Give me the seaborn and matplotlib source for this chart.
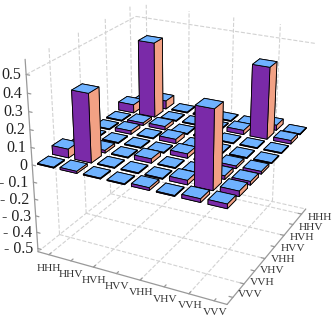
import numpy as np
import matplotlib
matplotlib.use("Agg")
import matplotlib.pyplot as plt
from mpl_toolkits.mplot3d import proj3d
import seaborn as sns

labels = ["HHH", "HHV", "HVH", "HVV", "VHH", "VHV", "VVH", "VVV"]
z_ticks = [0.5, 0.4, 0.3, 0.2, 0.1, 0, -0.1, -0.2, -0.3, -0.4, -0.5]
z_labels = ["0.5", "0.4", "0.3", "0.2", "0.1", "0", "- 0.1", "- 0.2", "- 0.3", "- 0.4", "- 0.5"]

# one list per x label, values along the y labels HHH..VVV
row_hhh = [0.005, 0.05, 0.005, 0.005, 0.005, 0.005, 0.05, 0.005]
row_hhv = [0.05, 0.45, 0.015, 0.02, 0.005, 0.015, 0.39, 0.012]
row_hvh = [0.005, 0.005, 0.02, 0.005, 0.005, 0.005, 0.005, 0.005]
row_hvv = [0.005, 0.005, 0.005, 0.025, 0.005, 0.025, 0.005, 0.005]
row_vhh = [0.005, 0.005, 0.005, 0.005, 0.025, 0.005, 0.005, 0.015]
row_vhv = [0.005, 0.025, 0.005, 0.005, 0.005, 0.005, 0.025, 0.005]
row_vvh = [0.03, 0.42, 0.005, 0.005, 0.015, 0.02, 0.435, 0.02]
row_vvv = [0.005, 0.02, 0.005, 0.005, 0.015, 0.02, 0.03, 0.025]
rows = [row_hhh, row_hhv, row_hvh, row_hvv, row_vhh, row_vhv, row_vvh, row_vvv]

sns.set_theme(style="white")
plt.rcParams['font.family'] = ['Liberation Serif', 'DejaVu Serif']

fig = plt.figure(figsize=(3.32, 3.2), dpi=100)
ax = fig.add_axes([0.011, 0.037, 1.02, 1.02], projection='3d')
azim = -63
ax.set_proj_type('persp', focal_length=0.55)
ax.view_init(elev=24, azim=azim)
ax.set_box_aspect((1, 1, 0.98), zoom=1.06)
ax.set_xlim(0, 8)
ax.set_ylim(0, 8)
zlo, zhi = -0.52, 0.58
ax.set_zlim(zlo, zhi)
ax.set_axis_off()
ax.computed_zorder = False


def put_text(x, y, z, s, **kw):
    # plain 2d text at the projected spot
    px, py, _ = proj3d.proj_transform(x, y, z, ax.get_proj())
    ax.text2D(px, py, s, transform=ax.transData, **kw)


grid_kw = dict(color='#d2d2d2', ls='--', lw=0.8, zorder=1)
for g in [0.5, 2.5, 4.5, 6.5]:
    ax.plot([g, g], [0, 8], [zlo, zlo], **grid_kw)
    ax.plot([0, 8], [g + 1, g + 1], [zlo, zlo], **grid_kw)
    ax.plot([g, g], [8, 8], [zlo, zhi], **grid_kw)
    ax.plot([0, 0], [g + 1, g + 1], [zlo, zhi], **grid_kw)
ax.plot([0, 8], [8, 8], [0.5, 0.5], **grid_kw)
ax.plot([0, 0], [0, 8], [0.5, 0.5], **grid_kw)
ax.plot([0, 8], [8, 8], [zlo, zlo], **grid_kw)
ax.plot([0, 0], [0, 8], [zlo, zlo], **grid_kw)

axis_kw = dict(color='#999999', lw=0.9, zorder=2)
ax.plot([0, 8], [0, 0], [zlo, zlo], **axis_kw)
ax.plot([8, 8], [0, 8], [zlo, zlo], **axis_kw)
ax.plot([0, 0], [0, 0], [zlo, zhi], **axis_kw)

for i, lab in enumerate(labels):
    ax.plot([i + 0.5, i + 0.5], [0, 0.15], [zlo, zlo], **axis_kw)
    ax.plot([8, 7.85], [7.5 - i, 7.5 - i], [zlo, zlo], **axis_kw)
    put_text(i + 1.05 - 0.03 * i, -0.85 + 0.03 * i, zlo, lab, size=8.2, color='#333333', ha='center', va='center')
    put_text(8.79 - 0.043 * i, 7.537 - 0.94 * i, zlo, lab, size=8.2, color='#333333', ha='center', va='center')
for v, lab in zip(z_ticks, z_labels):
    ax.plot([0, 0.15], [0, 0], [v, v], **axis_kw)
    put_text(-0.13, -0.13, v, lab, size=11.5, color='#222222', ha='right', va='center')

# back to front so the tall bars hide what is behind them
w = 0.72
colors = ['#6fb2ff', '#6fb2ff', '#7a2aa8', '#7a2aa8', '#f2a184', '#f2a184']
cells = [(i, j) for i in range(8) for j in range(8)]
cells.sort(key=lambda c: c[0] * np.cos(np.radians(azim)) + (7 - c[1]) * np.sin(np.radians(azim)))
for n, (i, j) in enumerate(cells):
    b = ax.bar3d(i + (1 - w) / 2, 7 - j + (1 - w) / 2, 0, w, w, rows[i][j],
                 color=colors, edgecolor='black', linewidth=0.6, shade=False, zorder=10 + n)

fig.savefig("out.png", dpi=100)
